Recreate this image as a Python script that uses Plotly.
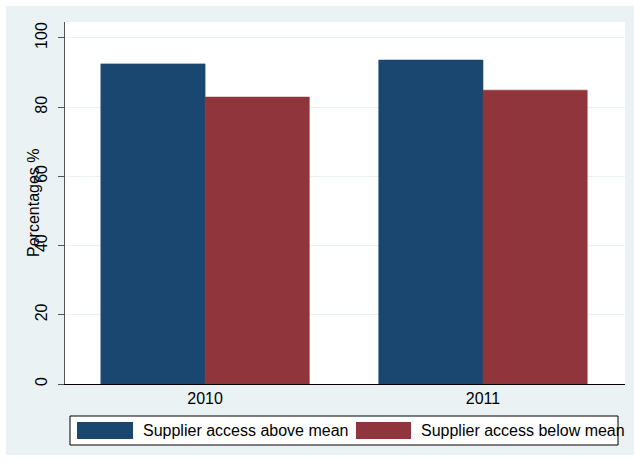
import plotly.graph_objects as go

years = ["2010", "2011"]
series_names = ["Supplier access above mean", "Supplier access below mean"]
above_mean = [92.5, 93.6]
below_mean = [82.9, 84.9]
colors = ["#1A476F", "#90353B"]
y_ticks = [0, 20, 40, 60, 80, 100]

W, H = 634, 465
L, R, T, B = 65, 9, 22, 81
PW, PH = W - L - R, H - T - B


def px(x):
    return (x - L) / PW


def py(y):
    return (H - B - y) / PH


fig = go.Figure()
for name, vals, col in zip(series_names, [above_mean, below_mean], colors):
    fig.add_trace(go.Bar(x=years, y=vals, name=name, marker=dict(color=col, line=dict(width=0.6, color=col)),
                         showlegend=False))

font = "Liberation Sans, Arial, sans-serif"
FS = 16
shapes = []
bg = "#EAF2F3"
# white margins outside the graph region
for x0, x1, y0, y1 in [(-20, W + 20, -20, 6), (-20, 6, -20, H + 20), (-20, W + 20, 455, H + 20)]:
    shapes.append(dict(type="rect", xref="paper", yref="paper", x0=px(x0), x1=px(x1), y0=py(y0), y1=py(y1),
                       fillcolor="white", line=dict(width=0), layer="above"))
# legend box
shapes.append(dict(type="rect", xref="paper", yref="paper", x0=px(70), x1=px(618), y0=py(416), y1=py(445),
                   fillcolor="white", line=dict(color="black", width=1)))
annotations = []
for (sx0, sx1, tx), name, col in zip([(77, 133, 141), (356, 411, 419)], series_names, colors):
    shapes.append(dict(type="rect", xref="paper", yref="paper", x0=px(sx0), x1=px(sx1), y0=py(422), y1=py(439),
                       fillcolor=col, line=dict(width=0)))
    annotations.append(dict(xref="paper", yref="paper", x=px(tx), y=py(430.5), text=name, showarrow=False,
                            xanchor="left", yanchor="middle", font=dict(family=font, size=FS, color="black")))
annotations.append(dict(xref="paper", yref="paper", x=px(33), y=0.5, text="Percentages %", textangle=-90,
                        showarrow=False, xanchor="center", yanchor="middle",
                        font=dict(family=font, size=FS, color="black")))

fig.update_layout(
    width=W, height=H,
    margin=dict(l=L, r=R, t=T, b=B, pad=0),
    paper_bgcolor=bg, plot_bgcolor="white",
    barmode="group", bargap=0.25, bargroupgap=0,
    font=dict(family=font, size=FS, color="black"),
    shapes=shapes, annotations=annotations,
    xaxis=dict(type="category", range=[-0.504, 1.511], showgrid=False, showline=True, linecolor="black",
               linewidth=1, ticks="", tickfont=dict(size=FS), zeroline=False),
    yaxis=dict(range=[0, 104.6], tickvals=y_ticks, showgrid=True, gridcolor=bg, gridwidth=1,
               showline=True, linecolor="#555555", linewidth=1.2, ticks="outside", ticklen=6,
               tickcolor="#555555", tickangle=-90, tickfont=dict(size=FS), zeroline=False,
               ticklabelstandoff=5),
)

fig.write_html("out.html", config={"displayModeBar": False},
               post_script="document.body.style.margin='0';")
